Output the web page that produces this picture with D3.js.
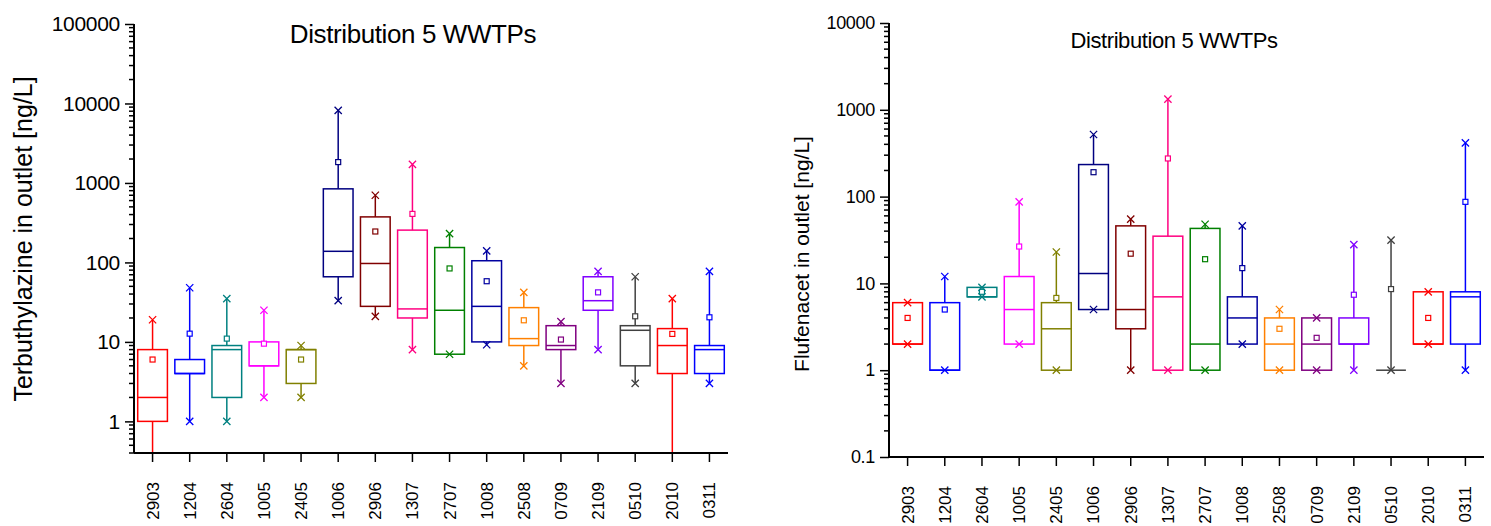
<!DOCTYPE html>
<html>
<head>
<meta charset="utf-8">
<script src="https://d3js.org/d3.v7.min.js"></script>
<style>
    body { margin: 0; background: #fff; }
    text { font-family: "Liberation Sans", Arial, sans-serif; fill: #000; }
</style>
</head>
<body>
<div id="chart"></div>
<script>
// sampling dates (ddmm)
const categories = ["2903", "1204", "2604", "1005", "2405", "1006", "2906", "1307",
    "2707", "1008", "2508", "0709", "2109", "0510", "2010", "0311"]

const boxColors = ["#ff0000", "#0000ff", "#008080", "#ff00ff", "#808000", "#000080", "#800000", "#ff0080",
    "#008000", "#0000a0", "#ff8000", "#800080", "#8000ff", "#404040", "#ff0000", "#0000ff"]

// Terbuthylazine, ng/L
const terbMax = [19, 48, 35, 25, 9, 8200, 700, 1710, 230, 140, 42, 18, 77, 66, 35, 77]
const terbQ3 = [8, 6, 9, 10, 8, 843, 374, 255, 154, 105, 27, 16, 66, 16, 14.7, 9]
const terbMed = [2, 4, 8, 5, 8, 138, 97, 26, 25, 28, 11, 9, 33, 14, 9, 8]
const terbQ1 = [1, 4, 2, 5, 3, 66, 28, 20, 7, 10, 9, 8, 25, 5, 4, 4]
const terbMin = [0.1, 1, 1, 2, 2, 33, 21, 8, 7, 9.2, 5, 3, 8, 3, 0.1, 3]
const terbMean = [6, 12.7, 11, 9.5, 6, 1830, 245, 408, 84, 58, 18.7, 10.7, 42, 21, 12.6, 20.4]
const terbTicks = [1, 10, 100, 1000, 10000, 100000]

// Flufenacet, ng/L
const flufMax = [6, 12, 9, 87, 23, 519, 55, 1325, 48, 46, 5, 4, 28, 31.5, 8, 416]
const flufQ3 = [6, 6, 9, 12, 6, 234, 46, 35, 43, 7, 4, 4, 4, 1, 8, 8]
const flufMed = [2, 1, 7, 5, 3, 13, 5, 7, 2, 4, 2, 2, 2, 1, 2, 7]
const flufQ1 = [2, 1, 7, 2, 1, 5, 3, 1, 1, 2, 1, 1, 2, 1, 2, 2]
const flufMin = [2, 1, 7, 2, 1, 5, 1, 1, 1, 2, 1, 1, 1, 1, 2, 1]
const flufMean = [4, 5, 8, 26.6, 6.8, 191, 22, 275, 19, 15, 3, 2.36, 7.4, 8.6, 4, 87]
const flufTicks = [0.1, 1, 10, 100, 1000, 10000]

const width = 1491
const height = 526

const svg = d3.select("#chart").append("svg")
    .attr("width", width)
    .attr("height", height)

const makeRows = (max, q3, med, q1, min, mean) => categories.map((c, i) => ({
    cat: c, color: boxColors[i],
    max: max[i], q3: q3[i], med: med[i], q1: q1[i], min: min[i], mean: mean[i]
}))

const drawPanel = function (opt) {
    const rows = makeRows(...opt.series)
    const x = d3.scaleBand().domain(categories).range([opt.left, opt.right]).padding(0)
    const y = d3.scaleLog().domain(opt.domain).range([opt.bottom, opt.top])
    const boxW = x.bandwidth() * 0.8
    const cx = (d) => x(d.cat) + x.bandwidth() / 2

    const g = svg.append("g")

    g.append("clipPath").attr("id", opt.id + "-clip")
        .append("rect")
        .attr("x", opt.left).attr("y", opt.top - 10)
        .attr("width", opt.right - opt.left).attr("height", opt.bottom - opt.top + 10)

    const plot = g.append("g").attr("clip-path", `url(#${opt.id}-clip)`)

    const box = plot.selectAll("g.box").data(rows).join("g")
        .attr("class", "box")
        .attr("stroke", d => d.color)
        .attr("fill", "none")
        .attr("stroke-width", 1.5)

    // whiskers
    box.append("line")
        .attr("x1", cx).attr("x2", cx)
        .attr("y1", d => y(d.q3)).attr("y2", d => y(d.max))
    box.append("line")
        .attr("x1", cx).attr("x2", cx)
        .attr("y1", d => y(d.q1)).attr("y2", d => y(d.min))

    box.append("rect")
        .attr("x", d => cx(d) - boxW / 2)
        .attr("width", boxW)
        .attr("y", d => y(d.q3))
        .attr("height", d => y(d.q1) - y(d.q3))
    box.append("line")
        .attr("x1", d => cx(d) - boxW / 2).attr("x2", d => cx(d) + boxW / 2)
        .attr("y1", d => y(d.med)).attr("y2", d => y(d.med))

    // mean square
    const sq = 5
    box.append("rect")
        .attr("x", d => cx(d) - sq / 2).attr("y", d => y(d.mean) - sq / 2)
        .attr("width", sq).attr("height", sq)
        .attr("stroke-width", 1.2)
        .attr("fill", "#fff")

    // max / min crosses
    const cross = d3.symbol().type(d3.symbolX).size(36)
    const ends = rows.flatMap(d => [{ d: d, v: d.max }, { d: d, v: d.min }])
    plot.selectAll("path.end").data(ends).join("path")
        .attr("class", "end")
        .attr("d", cross)
        .attr("transform", e => `translate(${cx(e.d)},${y(e.v)})`)
        .attr("stroke", e => e.d.color)
        .attr("stroke-width", 1.3)
        .attr("fill", "none")

    // y axis with minor ticks
    const minor = y.ticks(40).filter(t => !opt.ticks.some(m => Math.abs(m - t) / m < 1e-6))
    const yAxis = g.append("g").attr("transform", `translate(${opt.left},0)`)
    yAxis.selectAll("line.minor").data(minor).join("line")
        .attr("x1", -5).attr("x2", 0)
        .attr("y1", d => y(d)).attr("y2", d => y(d))
        .attr("stroke", "#000").attr("stroke-width", 1.5)
    yAxis.call(d3.axisLeft(y).tickValues(opt.ticks).tickSize(9).tickPadding(5).tickFormat(d3.format("~g")))
    yAxis.select(".domain").attr("stroke-width", 2).attr("d", `M0,${opt.bottom}V${opt.top}`)
    yAxis.selectAll(".tick line").attr("stroke-width", 1.5)
    yAxis.selectAll(".tick text")
        .style("font-size", opt.tickFont + "px")
        .style("letter-spacing", "-0.3px")
        .style("font-family", "'Liberation Sans', Arial, sans-serif")

    // x axis
    const xAxis = g.append("g").attr("transform", `translate(0,${opt.bottom})`)
    xAxis.call(d3.axisBottom(x).tickSize(9).tickSizeOuter(0))
    xAxis.select(".domain").attr("stroke-width", 2).attr("d", `M${opt.left},0H${opt.right}`)
    xAxis.selectAll(".tick line").attr("stroke-width", 1.5)
    xAxis.selectAll(".tick text")
        .attr("transform", "rotate(-90)")
        .attr("text-anchor", "end")
        .attr("x", -opt.labelGap)
        .attr("y", 0)
        .attr("dy", "0.35em")
        .style("font-size", "17px")
        .style("font-family", "'Liberation Sans', Arial, sans-serif")

    svg.append("text")
        .attr("x", opt.titleX).attr("y", opt.titleY)
        .attr("text-anchor", "middle")
        .style("font-size", opt.titleFont + "px")
        .style("letter-spacing", "-0.4px")
        .text("Distribution 5 WWTPs")

    svg.append("text")
        .attr("transform", `translate(${opt.labelX},${opt.labelY}) rotate(-90)`)
        .attr("text-anchor", "middle")
        .style("font-size", opt.labelFont + "px")
        .text(opt.label)
}

drawPanel({
    id: "terb",
    series: [terbMax, terbQ3, terbMed, terbQ1, terbMin, terbMean],
    domain: [0.4, 100000], ticks: terbTicks,
    left: 134, right: 728, top: 24, bottom: 453,
    tickFont: 21, labelGap: 29,
    titleX: 413, titleY: 43, titleFont: 26,
    label: "Terbuthylazine in outlet [ng/L]", labelX: 32, labelY: 239, labelFont: 25
})

drawPanel({
    id: "fluf",
    series: [flufMax, flufQ3, flufMed, flufQ1, flufMin, flufMean],
    domain: [0.1, 10000], ticks: flufTicks,
    left: 889, right: 1484, top: 23, bottom: 457,
    tickFont: 18, labelGap: 29,
    titleX: 1174, titleY: 48, titleFont: 22,
    label: "Flufenacet in outlet [ng/L]", labelX: 809, labelY: 254, labelFont: 21
})
</script>
</body>
</html>
